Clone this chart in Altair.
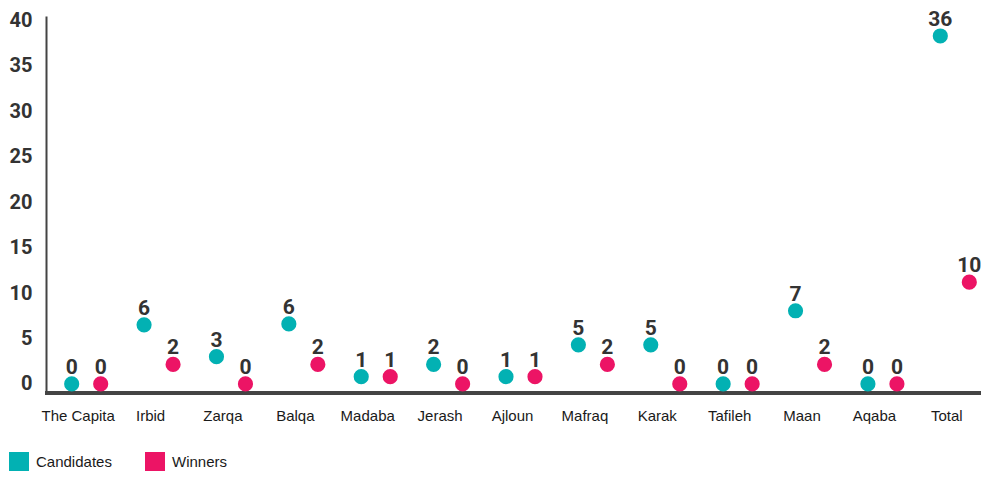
import altair as alt
import pandas as pd

districts = ["The Capita", "Irbid", "Zarqa", "Balqa", "Madaba", "Jerash", "Ajloun",
             "Mafraq", "Karak", "Tafileh", "Maan", "Aqaba", "Total"]
candidates = [0, 6, 3, 6, 1, 2, 1, 5, 5, 0, 7, 0, 36]
winners = [0, 2, 0, 2, 1, 0, 1, 2, 0, 0, 2, 0, 10]
# vertical positions at which the points are drawn in the original
candidates_drawn = [0, 6.5, 3.0, 6.6, 0.8, 2.15, 0.8, 4.3, 4.3, 0, 8.05, 0, 38.3]
winners_drawn = [0, 2.15, 0, 2.15, 0.8, 0, 0.8, 2.15, 0, 0, 2.15, 0, 11.2]
series = ["Candidates", "Winners"]
colors = ["#02B1B3", "#EC1465"]
y_ticks = [0, 5, 10, 15, 20, 25, 30, 35, 40]

W, H = 935, 377

rows = []
for i, d in enumerate(districts):
    rows.append({"district": d, "series": series[0], "value": candidates[i], "drawn": candidates_drawn[i]})
    rows.append({"district": d, "series": series[1], "value": winners[i], "drawn": winners_drawn[i]})
df = pd.DataFrame(rows)

x_enc = alt.X("district:N", sort=districts, title=None,
              scale=alt.Scale(paddingInner=0, paddingOuter=0, range=[4, 945]),
              axis=alt.Axis(labelAngle=0, ticks=False, domain=False, labelPadding=15,
                            labelFontSize=15, labelFont="Liberation Sans",
                            labelColor="#1a1a1a", labelOffset=-8, labelLimit=200))
xo_enc = alt.XOffset("series:N", sort=series,
                     scale=alt.Scale(type="point", padding=0.748))
y_enc = alt.Y("drawn:Q", title=None,
              scale=alt.Scale(domain=[-1, 40.5], nice=False, zero=False),
              axis=alt.Axis(values=y_ticks, ticks=False, grid=False, labelPadding=14,
                            labelFontSize=20, labelFont="Roboto", labelFontWeight="bold",
                            labelColor="#333333", domainColor="#444444", domainWidth=2))

baseline = alt.Chart(df).mark_rule(color="#444444", strokeWidth=3).encode(
    x=alt.value(-1), x2=alt.value(W), y=alt.value(H)
)

points = alt.Chart(df).mark_circle(size=230, opacity=1).encode(
    x=x_enc, xOffset=xo_enc, y=y_enc,
    color=alt.Color("series:N", sort=series, title=None,
                    scale=alt.Scale(domain=series, range=colors),
                    legend=alt.Legend(orient="none", direction="horizontal",
                                      legendX=-37, legendY=436,
                                      symbolType="square", symbolSize=400,
                                      symbolStrokeWidth=0, symbolOpacity=1,
                                      labelFontSize=15, labelFont="Liberation Sans",
                                      labelColor="#1a1a1a", labelOffset=7,
                                      columnPadding=33)),
)

labels = alt.Chart(df).mark_text(baseline="alphabetic", dy=-10, fontSize=21,
                                  font="Roboto", fontWeight="bold", color="#333333").encode(
    x=alt.X("district:N", sort=districts), xOffset=alt.XOffset("series:N", sort=series),
    y=alt.Y("drawn:Q"), text=alt.Text("value:Q"),
)

chart = alt.layer(baseline, points, labels).properties(
    width=W, height=H,
    autosize=alt.AutoSizeParams(type="none"),
    padding={"left": 38, "top": 8, "right": 0, "bottom": 78},
).configure_view(stroke=None)

chart.save("out.html", embed_options={"renderer": "svg", "actions": False})
